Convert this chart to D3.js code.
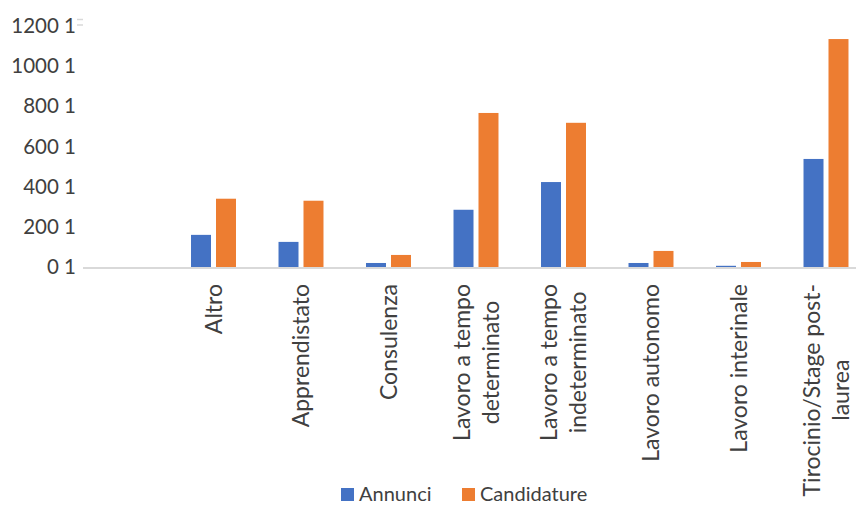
<!DOCTYPE html>
<html>
<head>
<meta charset="utf-8">
<script src="https://cdn.jsdelivr.net/npm/d3@7"></script>
<style>
  html, body { margin: 0; padding: 0; background: #fff; }
  svg { display: block; }
  text { font-family: Lato, "Open Sans", sans-serif; fill: #404040; }
</style>
</head>
<body>
<svg id="chart" width="856" height="505"></svg>
<script>
// ---- data ----
const categories = ["", "Altro", "Apprendistato", "Consulenza", "Lavoro a tempo determinato",
  "Lavoro a tempo indeterminato", "Lavoro autonomo", "Lavoro interinale", "Tirocinio/Stage post-laurea"];
const categoryLines = [[""], ["Altro"], ["Apprendistato"], ["Consulenza"], ["Lavoro a tempo", "determinato"],
  ["Lavoro a tempo", "indeterminato"], ["Lavoro autonomo"], ["Lavoro interinale"], ["Tirocinio/Stage post-", "laurea"]];
const seriesNames = ["Annunci", "Candidature"];
const annunci =     [null, 160, 125, 20, 285, 423, 20, 6, 538];
const candidature = [null, 340, 330, 60, 767, 718, 80, 25, 1135];
const yTickValues = [0, 200, 400, 600, 800, 1000, 1200];
const yTickLabels = ["0 1", "200 1", "400 1", "600 1", "800 1", "1000 1", "1200 1"];
const colors = ["#4472C4", "#ED7D31"];

// ---- layout ----
const svg = d3.select("#chart");
const yFont = 20.5, catFont = 23, legFont = 20;

const x0 = d3.scaleBand().domain(categories).range([82.25, 869.75])
  .paddingInner(0.486).paddingOuter(0.243);
const x1 = d3.scaleBand().domain(seriesNames).range([0, x0.bandwidth()])
  .paddingInner(0.2).paddingOuter(0);
const y = d3.scaleLinear().domain([0, 1200]).range([267, 26]);
const color = d3.scaleOrdinal().domain(seriesNames).range(colors);

const rows = categories.map((c, i) => ({ cat: c, vals: [annunci[i], candidature[i]] }));

// bars
const g = svg.append("g");
g.selectAll("g.grp").data(rows).join("g")
  .attr("class", "grp")
  .attr("transform", d => `translate(${x0(d.cat)},0)`)
  .selectAll("rect")
  .data(d => d.vals.map((v, k) => ({ s: seriesNames[k], v })).filter(e => e.v != null))
  .join("rect")
  .attr("x", e => x1(e.s))
  .attr("width", x1.bandwidth())
  .attr("y", e => y(e.v))
  .attr("height", e => y(0) - y(e.v))
  .attr("fill", e => color(e.s));

// x axis baseline
svg.append("line")
  .attr("x1", 83).attr("x2", 870)
  .attr("y1", y(0) + 1).attr("y2", y(0) + 1)
  .attr("stroke", "#D9D9D9").attr("stroke-width", 2);

// y axis labels (no line)
const yAxis = d3.axisLeft(y).tickValues(yTickValues)
  .tickFormat((d, i) => yTickLabels[i]).tickSize(0).tickPadding(0);
const ya = svg.append("g").attr("transform", "translate(76,0)").call(yAxis);
ya.select(".domain").remove();
ya.selectAll("text").style("font-family", "Lato, sans-serif").style("font-size", yFont + "px")
  .attr("fill", "#404040");

// small light marks next to top label
[19.5, 25].forEach(yy => svg.append("line")
  .attr("x1", 77).attr("x2", 83).attr("y1", yy).attr("y2", yy)
  .attr("stroke", "#D9D9D9").attr("stroke-width", 1.5));

// category labels (rotated)
const labelTop = 284;
const lineGap = 29;
categoryLines.forEach((lines, i) => {
  if (!lines[0]) return;
  const cx = x0(categories[i]) + x0.bandwidth() / 2;
  const lg = svg.append("g").attr("transform", `translate(${cx},${labelTop}) rotate(-90)`);
  const n = lines.length;
  const texts = lines.map((ln, j) => lg.append("text")
    .attr("y", (j - (n - 1) / 2) * lineGap)
    .attr("dy", "0.36em")
    .style("font-size", catFont + "px")
    .attr("text-anchor", "middle")
    .text(ln));
  const maxLen = d3.max(texts, t => t.node().getComputedTextLength());
  texts.forEach(t => t.attr("x", -maxLen / 2));
});

// legend
const legendItems = [{ name: seriesNames[0], x: 341 }, { name: seriesNames[1], x: 462 }];
legendItems.forEach(it => {
  svg.append("rect").attr("x", it.x).attr("y", 488).attr("width", 13).attr("height", 13)
    .attr("fill", color(it.name));
  svg.append("text").attr("x", it.x + 18).attr("y", 501)
    .style("font-size", legFont + "px").text(it.name);
});
</script>
</body>
</html>
